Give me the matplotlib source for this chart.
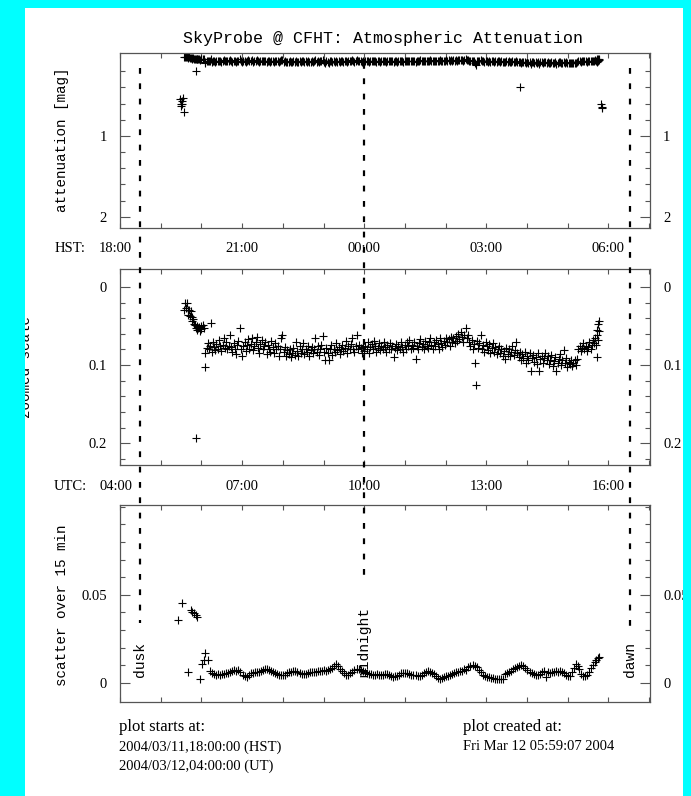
import matplotlib
matplotlib.use('Agg')
import matplotlib.pyplot as plt
from matplotlib.patches import Rectangle
from matplotlib.lines import Line2D
from matplotlib.transforms import blended_transform_factory as blend

# ---------------- data (hours after 18:00 HST) ----------------
att_t = [1.58, 1.60, 1.62, 1.64, 1.66, 1.68, 1.70, 1.72, 1.74, 1.76, 1.78, 1.80, 1.82, 1.84,
         1.86, 1.88, 1.90, 1.92, 1.94, 1.96, 1.98, 2.00, 2.03, 2.06, 1.86, 2.10, 2.24,
         2.10, 2.13, 2.16, 2.19, 2.22, 2.25, 2.28, 2.31, 2.34, 2.37, 2.40, 2.43, 2.46, 2.49,
         2.52, 2.55, 2.58, 2.61, 2.64, 2.67, 2.70, 2.73, 2.76, 2.79, 2.82, 2.85, 2.88, 2.91,
         2.94, 2.97,
         3.00, 3.03, 3.06, 3.09, 3.12, 3.15, 3.18, 3.21, 3.24, 3.27, 3.30, 3.33, 3.36, 3.39,
         3.42, 3.45, 3.48, 3.51, 3.54, 3.57, 3.60, 3.63, 3.66, 3.69, 3.72, 3.75, 3.78, 3.81,
         3.84, 3.87, 3.90, 3.93, 3.96, 3.99,
         4.02, 4.05, 4.08, 4.11, 4.14, 4.17, 4.20, 4.23, 4.26, 4.29, 4.32, 4.35, 4.38, 4.41,
         4.44, 4.47, 4.50, 4.53, 4.56, 4.59, 4.62, 4.65, 4.68, 4.71, 4.74, 4.77, 4.80, 4.83,
         4.86, 4.89, 4.92, 4.95, 4.98,
         5.01, 5.04, 5.07, 5.10, 5.13, 5.16, 5.19, 5.22, 5.25, 5.28, 5.31, 5.34, 5.37, 5.40,
         5.43, 5.46, 5.49, 5.52, 5.55, 5.58, 5.61, 5.64, 5.67, 5.70, 5.73, 5.76, 5.79, 5.82,
         5.85, 5.88, 5.91, 5.94, 5.97,
         6.00, 6.03, 6.06, 6.09, 6.12, 6.15, 6.18, 6.21, 6.24, 6.27, 6.30, 6.33, 6.36, 6.39,
         6.42, 6.45, 6.48, 6.51, 6.54, 6.57, 6.60, 6.63, 6.66, 6.69, 6.72, 6.75, 6.78, 6.81,
         6.84, 6.87, 6.90, 6.93, 6.96, 6.99,
         7.02, 7.05, 7.08, 7.11, 7.14, 7.17, 7.20, 7.23, 7.26, 7.29, 7.32, 7.35, 7.38, 7.41,
         7.44, 7.47, 7.50, 7.53, 7.56, 7.59, 7.62, 7.65, 7.68, 7.71, 7.74, 7.77, 7.80, 7.83,
         7.86, 7.89, 7.92, 7.95, 7.98, 8.01, 8.04, 8.07, 8.10, 8.13, 8.16,
         8.19, 8.22, 8.25, 8.28, 8.31, 8.34, 8.37, 8.40, 8.43, 8.46, 8.49, 8.52, 8.55, 8.58,
         8.61, 8.64, 8.67, 8.70, 8.73, 8.74,
         8.77, 8.80, 8.83, 8.86, 8.89, 8.92, 8.95, 8.98, 9.01, 9.04, 9.07, 9.10, 9.13, 9.16,
         9.19, 9.22, 9.25, 9.28,
         9.31, 9.34, 9.37, 9.40, 9.43, 9.46, 9.49, 9.52, 9.55, 9.58, 9.61, 9.64, 9.67, 9.70,
         9.73, 9.76, 9.79, 9.82,
         9.85, 9.88, 9.91, 9.94, 9.97, 10.00, 10.03, 10.06, 10.09, 10.12, 10.15, 10.18, 10.21,
         10.24, 10.27, 10.30, 10.33, 10.36, 10.39, 10.42, 10.45, 10.48, 10.51, 10.54, 10.57,
         10.60, 10.63, 10.66, 10.69, 10.72, 10.75, 10.78, 10.81, 10.84, 10.87, 10.90, 10.93,
         10.96, 10.99,
         11.02, 11.05, 11.08, 11.11, 11.14, 11.17, 11.20, 11.23,
         11.26, 11.29, 11.32, 11.35, 11.38, 11.41, 11.44, 11.47, 11.50, 11.53, 11.56, 11.59,
         11.62, 11.65, 11.67, 11.69, 11.71, 11.72, 11.73, 11.74, 11.75, 11.76, 11.77]
att_v = [.030, .020, .027, .020, .029, .036, .030, .037, .031, .039, .044, .041, .047, .049,
         .052, .050, .055, .053, .051, .056, .054, .050, .049, .052, .193, .103, .046,
         .085, .078, .072, .080, .075, .083, .070, .077, .081, .073, .079, .068, .076, .082,
         .074, .066, .078, .071, .080, .075, .062, .077, .083, .072, .079, .086, .074, .069,
         .053, .080,
         .089, .076, .071, .082, .074, .067, .079, .073, .066, .081, .075, .070, .064, .078,
         .084, .073, .068, .080, .076, .071, .086, .074, .079, .083, .069, .077, .085, .072,
         .080, .076, .088, .079, .065, .062,
         .083, .077, .088, .081, .086, .079, .090, .084, .078, .087, .071, .082, .089, .076,
         .084, .080, .072, .086, .079, .083, .075, .088, .081, .077, .085, .079, .066, .083,
         .076, .087, .080, .074, .063,
         .083, .093, .078, .085, .094, .080, .074, .087, .079, .083, .072, .081, .077, .086,
         .079, .074, .082, .078, .069, .084, .076, .080, .073, .065, .079, .083, .076, .062,
         .080, .074, .078, .085, .077,
         .082, .075, .079, .071, .084, .077, .073, .080, .069, .076, .083, .078, .072, .081,
         .075, .079, .070, .077, .083, .074, .079, .072, .080, .076, .090, .078, .073, .081,
         .075, .079, .071, .077, .083, .074,
         .079, .071, .076, .068, .080, .074, .078, .070, .092, .075, .079, .072, .067, .077,
         .073, .080, .069, .075, .078, .071, .065, .074, .079, .070, .076, .068, .073, .080,
         .066, .072, .077, .069, .074, .065, .071, .067, .075, .064, .070,
         .066, .072, .063, .069, .060, .067, .058, .064, .071, .062, .052, .066, .061, .070,
         .075, .068, .080, .073, .097, .125,
         .069, .078, .072, .062, .080, .074, .083, .070, .076, .081, .073, .085, .078, .072,
         .083, .077, .086, .080,
         .075, .084, .079, .088, .082, .092, .078, .086, .080, .089, .083, .075, .087, .081,
         .070, .085, .090, .083,
         .094, .086, .091, .083, .098, .089, .093, .085, .108, .091, .087, .096, .090,
         .099, .084, .108, .092, .088, .097, .091, .085, .094, .089, .099, .093,
         .087, .101, .095, .090, .107, .098, .092, .086, .100, .094, .081, .097,
         .091, .102,
         .096, .099, .093, .101, .097, .094, .100, .092,
         .080, .076, .082, .078, .072, .080, .075, .082, .077, .070, .079, .074,
         .068, .072, .065, .074, .062, .090, .055, .068, .048, .044, .057]

# extra points visible only on the full-scale panel
top_out_t = [1.47, 1.50, 1.49, 1.52, 1.55, 1.57, 1.53, 9.83, 11.82, 11.84, 11.83]
top_out_v = [0.55, 0.60, 0.63, 0.57, 0.53, 0.70, 0.61, 0.40, 0.60, 0.64, 0.66]

# scatter over 15 min
sc_t = [1.43, 1.52, 1.74, 1.78, 1.82, 1.86, 1.90, 1.68, 1.97, 2.01, 2.06, 2.10, 2.16,
        2.21, 2.26, 2.31, 2.36, 2.41, 2.46, 2.51, 2.56, 2.61, 2.66, 2.71, 2.76, 2.81, 2.86,
        2.91, 2.96, 3.01, 3.06, 3.11, 3.16, 3.21, 3.26, 3.31, 3.36, 3.41, 3.46, 3.51, 3.56,
        3.61, 3.66, 3.71, 3.76, 3.81, 3.86, 3.91, 3.96, 4.01, 4.06, 4.11, 4.16, 4.21, 4.26,
        4.31, 4.36, 4.41, 4.46, 4.51, 4.56, 4.61, 4.66, 4.71, 4.76, 4.81, 4.86, 4.91, 4.96,
        5.01, 5.06, 5.11, 5.16, 5.21, 5.26, 5.31, 5.36, 5.41, 5.46, 5.51, 5.56, 5.61, 5.66,
        5.71, 5.76, 5.81, 5.86, 5.91, 5.96, 6.01, 6.06, 6.11, 6.16, 6.21, 6.26, 6.31, 6.36,
        6.41, 6.46, 6.51, 6.56, 6.61, 6.66, 6.71, 6.76, 6.81, 6.86, 6.91, 6.96, 7.01, 7.06,
        7.11, 7.16, 7.21, 7.26, 7.31, 7.36, 7.41, 7.46, 7.51, 7.56, 7.61, 7.66, 7.71, 7.76,
        7.81, 7.86, 7.91, 7.96, 8.01, 8.06, 8.11, 8.16, 8.21, 8.26, 8.31, 8.36, 8.41, 8.46,
        8.51, 8.56, 8.61, 8.66, 8.71, 8.76, 8.81, 8.86, 8.91, 8.96, 9.01, 9.06, 9.11, 9.16,
        9.21, 9.26, 9.31, 9.36, 9.41, 9.46, 9.51, 9.56, 9.61, 9.66, 9.71, 9.76, 9.81, 9.86,
        9.91, 9.96, 10.01, 10.06, 10.11, 10.16, 10.21, 10.26, 10.31, 10.36, 10.41, 10.46,
        10.51, 10.56, 10.61, 10.66, 10.71, 10.76, 10.81, 10.86, 10.91, 10.96, 11.01, 11.06,
        11.11, 11.16, 11.20, 11.24, 11.28, 11.33, 11.38, 11.43, 11.48, 11.53, 11.58, 11.62,
        11.66, 11.70, 11.74, 11.77]
sc_v = [.0358, .0456, .0415, .0405, .0395, .0385, .0375, .0064, .0022, .0110, .0130, .0170, .0130,
        .0068, .0058, .0052, .0047, .0050, .0045, .0052, .0049, .0054, .0056, .0062, .0066, .0071, .0069,
        .0073, .0060, .0048, .0040, .0036, .0045, .0054, .0058, .0060, .0062, .0061, .0066, .0072, .0078,
        .0082, .0074, .0068, .0060, .0055, .0050, .0046, .0044, .0046, .0048, .0055, .0060, .0064, .0068,
        .0066, .0060, .0055, .0052, .0049, .0052, .0057, .0060, .0063, .0062, .0064, .0067, .0066, .0069,
        .0072, .0070, .0076, .0080, .0086, .0095, .0108, .0096, .0082, .0068, .0056, .0048, .0047, .0056,
        .0064, .0072, .0077, .0079, .0073, .0066, .0060, .0055, .0051, .0050, .0048, .0046, .0049, .0047,
        .0043, .0045, .0050, .0052, .0048, .0040, .0036, .0038, .0042, .0048, .0054, .0058, .0059, .0055,
        .0050, .0047, .0044, .0046, .0041, .0040, .0045, .0055, .0062, .0066, .0064, .0058, .0050, .0040,
        .0028, .0022, .0026, .0034, .0040, .0042, .0046, .0052, .0058, .0062, .0064, .0067, .0070, .0078,
        .0074, .0088, .0096, .0102, .0098, .0088, .0072, .0060, .0048, .0040, .0036, .0032, .0028, .0026,
        .0024, .0023, .0023, .0024, .0022, .0050, .0058, .0060, .0070, .0078, .0084, .0090, .0096, .0102,
        .0094, .0084, .0074, .0062, .0054, .0050, .0046, .0045, .0052, .0060, .0068, .0036,
        .0062, .0058, .0062, .0064, .0067, .0064, .0068, .0060, .0054, .0048, .0042, .0040,
        .0060, .0086, .0108, .0098, .0080, .0052, .0038, .0040, .0046, .0060, .0085, .0102,
        .0118, .0132, .0140, .0150]

label_hours = [0, 3, 6, 9, 12]
hst_labels = ['18:00', '21:00', '00:00', '03:00', '06:00']
utc_labels = ['04:00', '07:00', '10:00', '13:00', '16:00']
event_hours = [0.49, 6.0, 12.54]
event_names = ['dusk', 'midnight', 'dawn']

# ---------------- figure ----------------
W, H = 691, 796
CYAN = '#00ffff'
SERIF = 'Liberation Serif'
MONO = 'Liberation Mono'
fig = plt.figure(figsize=(W / 100, H / 100), dpi=100, facecolor=CYAN)
fig.add_artist(Rectangle((25 / W, 0), (683 - 25) / W, 1 - 8 / H, transform=fig.transFigure,
                         facecolor='white', edgecolor='none', zorder=-5))


def fax(l, t, r, b):
    return fig.add_axes([l / W, 1 - b / H, (r - l) / W, (b - t) / H])


ax1 = fax(120, 53, 650, 228)
ax2 = fax(120, 269, 650, 465)
ax3 = fax(120, 505, 650, 702)

for ax in (ax1, ax2, ax3):
    ax.set_xlim(0, 13.02)
    ax.set_xticks(range(14))
    ax.tick_params(axis='x', which='both', direction='in', top=True, bottom=True,
                   labelbottom=False, length=3.6, width=0.8, color='#555555')
    ax.tick_params(axis='y', which='both', direction='in', left=True, right=True,
                   labelleft=True, labelright=True, width=0.8, color='#555555', pad=9.5,
                   labelsize=10.5)
    ax.tick_params(axis='y', which='major', length=7.2)
    ax.tick_params(axis='y', which='minor', length=3.6)
    for s in ax.spines.values():
        s.set_color('#555555')
        s.set_linewidth(0.9)
    for lab in ax.get_yticklabels():
        lab.set_fontfamily(SERIF)

mk = dict(linestyle='none', marker='+', color='black', ms=5.5, mew=0.8)

# top panel
ax1.plot(att_t, att_v, clip_on=False, **mk)
ax1.plot(top_out_t, top_out_v, **mk)
ax1.set_ylim(2.14, -0.025)
ax1.set_yticks([1, 2])
ax1.set_yticklabels(['1', '2'], fontfamily=SERIF)
ax1.set_yticks([0.2, 0.4, 0.6, 0.8, 1.2, 1.4, 1.6, 1.8], minor=True)

# middle panel
ax2.plot(att_t, att_v, **mk)
ax2.set_ylim(0.228, -0.023)
ax2.set_yticks([0, 0.1, 0.2])
ax2.set_yticklabels(['0', '0.1', '0.2'], fontfamily=SERIF)
ax2.set_yticks([0.02, 0.04, 0.06, 0.08, 0.12, 0.14, 0.16, 0.18, 0.22], minor=True)

# bottom panel
ax3.plot(sc_t, sc_v, **mk)
ax3.set_ylim(-0.0108, 0.101)
ax3.set_yticks([0, 0.05])
ax3.set_yticklabels(['0', '0.05'], fontfamily=SERIF)
ax3.set_yticks([0.01, 0.02, 0.03, 0.04, 0.06, 0.07, 0.08, 0.09, 0.1], minor=True)

# time labels between panels
tr = blend(ax1.transData, fig.transFigure)
for h, hs, us in zip(label_hours, hst_labels, utc_labels):
    ha = 'right' if h == 0 else 'center'
    xx = h + 0.3 if h == 0 else h
    fig.text(xx, 1 - 248 / H, hs, transform=tr, ha=ha, va='center', fontsize=10.5, fontfamily=SERIF)
    fig.text(xx, 1 - 486 / H, us, transform=tr, ha=ha, va='center', fontsize=10.5, fontfamily=SERIF)
fig.text(70 / W, 1 - 248 / H, 'HST:', ha='center', va='center', fontsize=10.5, fontfamily=SERIF)
fig.text(70 / W, 1 - 486 / H, 'UTC:', ha='center', va='center', fontsize=10.5, fontfamily=SERIF)

# dusk / midnight / dawn dashed lines
tops = [68, 63, 68]
bots = [623, 583, 627]
for h, name, t0, b0 in zip(event_hours, event_names, tops, bots):
    ln = Line2D([h, h], [1 - t0 / H, 1 - b0 / H], transform=tr, color='black', lw=1.6,
                linestyle=(0, (2.6, 4.3)), zorder=4)
    fig.add_artist(ln)
    fig.text(h, 1 - 677 / H, name, transform=tr, rotation=90, ha='center', va='bottom',
             fontsize=10.5, fontfamily=MONO, zorder=5)

# titles and labels
fig.text(383 / W, 1 - 39 / H, 'SkyProbe @ CFHT: Atmospheric Attenuation', ha='center', va='center',
         fontsize=12, fontfamily=MONO)
fig.text(62 / W, 1 - 140 / H, 'attenuation [mag]', rotation=90, ha='center', va='center',
         fontsize=10.3, fontfamily=MONO)
fig.text(62 / W, 1 - 605 / H, 'scatter over 15 min', rotation=90, ha='center', va='center',
         fontsize=10.3, fontfamily=MONO)
fig.text(26 / W, 1 - 367 / H, 'zoomed scale', rotation=90, ha='center', va='center',
         fontsize=10.3, fontfamily=MONO)

# footer
fig.text(119 / W, 1 - 727 / H, 'plot starts at:', ha='left', va='center', fontsize=12, fontfamily=SERIF)
fig.text(119 / W, 1 - 747 / H, '2004/03/11,18:00:00 (HST)', ha='left', va='center', fontsize=10.5,
         fontfamily=SERIF)
fig.text(119 / W, 1 - 766 / H, '2004/03/12,04:00:00 (UT)', ha='left', va='center', fontsize=10.5,
         fontfamily=SERIF)
fig.text(463 / W, 1 - 727 / H, 'plot created at:', ha='left', va='center', fontsize=12, fontfamily=SERIF)
fig.text(463 / W, 1 - 747 / H, 'Fri Mar 12 05:59:07 2004', ha='left', va='center', fontsize=10.5,
         fontfamily=SERIF)

# cyan borders drawn on top (clip texts at the edges like the original)
for x0, y0, w0, h0 in [(0, 0, 25, H), (683, 0, 8, H), (0, 0, W, 8)]:
    fig.add_artist(Rectangle((x0 / W, 1 - (y0 + h0) / H), w0 / W, h0 / H, transform=fig.transFigure,
                             facecolor=CYAN, edgecolor='none', zorder=20))

fig.savefig('out.png', dpi=100, facecolor=CYAN)
